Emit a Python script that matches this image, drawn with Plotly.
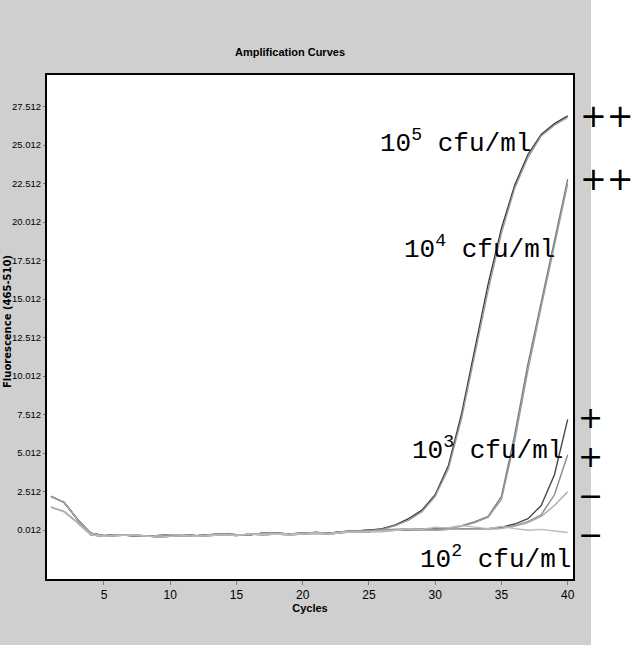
import plotly.graph_objects as go

# ---------------- data ----------------
cycles = list(range(1, 41))

base_a = [2.2, 1.8, 0.7, -0.2, -0.35, -0.3, -0.35, -0.4, -0.35, -0.3,
          -0.3, -0.35, -0.3, -0.25, -0.3, -0.3, -0.2, -0.2, -0.25, -0.2,
          -0.15, -0.2, -0.1, -0.05, 0.0]
base_b = [1.5, 1.2, 0.5, -0.3, -0.4, -0.35, -0.3, -0.35, -0.45, -0.4,
          -0.35, -0.4, -0.35, -0.3, -0.35, -0.25, -0.3, -0.25, -0.3, -0.25,
          -0.2, -0.25, -0.15, -0.1, -0.1]

c5a = base_a + [0.1, 0.35, 0.75, 1.3, 2.3, 4.2, 7.6, 11.8, 16.0, 19.6, 22.4, 24.4, 25.7, 26.4, 26.9]
c5b = base_b + [0.05, 0.3, 0.65, 1.2, 2.2, 4.0, 7.3, 11.4, 15.6, 19.3, 22.2, 24.2, 25.6, 26.3, 26.8]
c4a = base_a[:24] + [0.0, 0.05, 0.05, 0.1, 0.1, 0.1, 0.15, 0.3, 0.55, 0.9, 2.2, 6.2, 10.8, 14.8, 18.8, 22.8]
c4b = base_b[:24] + [-0.05, 0.0, 0.05, 0.05, 0.1, 0.1, 0.1, 0.25, 0.5, 0.85, 2.0, 5.8, 10.4, 14.5, 18.5, 22.5]
c3a = base_a[:24] + [0.0, -0.05, 0.0, 0.05, 0.0, 0.05, 0.05, 0.05, 0.1, 0.1, 0.2, 0.4, 0.75, 1.6, 3.6, 7.2]
c3b = base_b[:24] + [-0.1, -0.05, 0.0, 0.0, 0.05, 0.0, 0.05, 0.1, 0.1, 0.1, 0.15, 0.3, 0.55, 1.0, 2.3, 4.9]
c2a = base_a[:24] + [-0.05, 0.0, 0.0, 0.05, 0.0, 0.0, 0.05, 0.05, 0.05, 0.05, 0.1, 0.25, 0.5, 0.9, 1.6, 2.5]
c2b = base_b[:24] + [-0.1, -0.1, 0.0, 0.1, 0.05, 0.2, 0.15, 0.3, 0.2, 0.1, 0.25, 0.1, 0.0, 0.05, -0.05, -0.15]

series = [c5a, c5b, c4a, c4b, c3a, c3b, c2a, c2b]
series_colors = ["#3a3a3a", "#9a9a9a", "#7a7a7a", "#9a9a9a", "#4a4a4a", "#8a8a8a", "#acacac", "#bcbcbc"]

y_tickvals = [0.012, 2.512, 5.012, 7.512, 10.012, 12.512, 15.012, 17.512, 20.012, 22.512, 25.012, 27.512]
y_ticktext = ["0.012", "2.512", "5.012", "7.512", "10.012", "12.512", "15.012",
              "17.512", "20.012", "22.512", "25.012", "27.512"]
x_tickvals = [5, 10, 15, 20, 25, 30, 35, 40]

labels = ["10<sup>5</sup> cfu/ml", "10<sup>4</sup> cfu/ml", "10<sup>3</sup> cfu/ml", "10<sup>2</sup> cfu/ml"]
label_x = [25.66, 27.47, 28.1, 28.7]
label_y = [25.2, 18.3, 5.3, -1.8]

top_marks = ["++", "++"]
top_mark_series = [c5a, c4a]
low_marks = ["+", "+", "\u2212", "\u2212"]
low_mark_series = [c3a, c3b, c2a, c2b]

# ---------------- figure ----------------
fig = go.Figure()
for s, col in zip(series, series_colors):
    fig.add_trace(go.Scatter(x=cycles, y=s, mode="lines",
                             line=dict(color=col, width=1.4),
                             showlegend=False, hoverinfo="skip"))

sans = "Liberation Sans, Arial, sans-serif"

fig.update_layout(
    width=634, height=645, autosize=False,
    margin=dict(l=47, r=61, t=75, b=66, pad=0),
    paper_bgcolor="#cfcfcf",
    plot_bgcolor="white",
    showlegend=False,
    title=dict(text="<b>Amplification Curves</b>", x=0.462, xref="paper",
               y=1 - 52 / 645, yref="container", xanchor="center", yanchor="middle",
               font=dict(family=sans, size=11, color="black")),
    xaxis=dict(range=[0.7, 40.4], tickvals=x_tickvals, showgrid=False, zeroline=False,
               showline=True, mirror=True, linecolor="black", linewidth=2,
               ticks="outside", ticklen=4, tickcolor="#777", tickwidth=1,
               automargin=False,
               tickfont=dict(family=sans, size=12, color="black"),
               title=dict(text="<b>Cycles</b>", standoff=2,
                          font=dict(family=sans, size=11, color="black"))),
    yaxis=dict(range=[-3.17, 29.56], tickvals=y_tickvals, ticktext=y_ticktext,
               showgrid=False, zeroline=False,
               showline=True, mirror=True, linecolor="black", linewidth=2,
               ticks="outside", ticklen=2, tickcolor="#777", tickwidth=1,
               automargin=False,
               tickfont=dict(family=sans, size=9.5, color="black")),
)

# white strip on the right beyond the grey scan background
fig.add_shape(type="rect", xref="paper", yref="paper",
              x0=(591 - 47) / 526, x1=(640 - 47) / 526,
              y0=-0.2, y1=1.2, fillcolor="white", line=dict(width=0), layer="below")

# y-axis title
fig.add_annotation(text="<b>Fluorescence (465-510)</b>", xref="paper", yref="paper",
                   x=(7 - 47) / 526, y=(579 - 322) / 504, textangle=-90,
                   showarrow=False, xanchor="center", yanchor="middle",
                   font=dict(family="DejaVu Sans, sans-serif", size=10, color="black"))

# concentration labels
for t, lx, ly in zip(labels, label_x, label_y):
    fig.add_annotation(text=t, x=lx, y=ly, xref="x", yref="y", showarrow=False,
                       xanchor="left", yanchor="middle",
                       font=dict(family="Liberation Mono, monospace", size=26, color="black"))

# ++ marks at the right (aligned with curve end values)
for m, s in zip(top_marks, top_mark_series):
    fig.add_annotation(text=m, xref="paper", yref="y", x=(578 - 47) / 526, y=s[-1],
                       showarrow=False, xanchor="left", yanchor="middle",
                       font=dict(family="DejaVu Sans, sans-serif", size=32, color="black"))

# + + - - marks stacked in one text block
low_y_mid = (low_mark_series[0][-1] + low_mark_series[-1][-1]) / 2
fig.add_annotation(text="<br>".join(low_marks), xref="paper", yref="y",
                   x=(576 - 47) / 526, y=low_y_mid,
                   showarrow=False, xanchor="left", yanchor="middle", align="left",
                   font=dict(family="DejaVu Sans, sans-serif", size=30, color="black"))

fig.write_html("out.html")
